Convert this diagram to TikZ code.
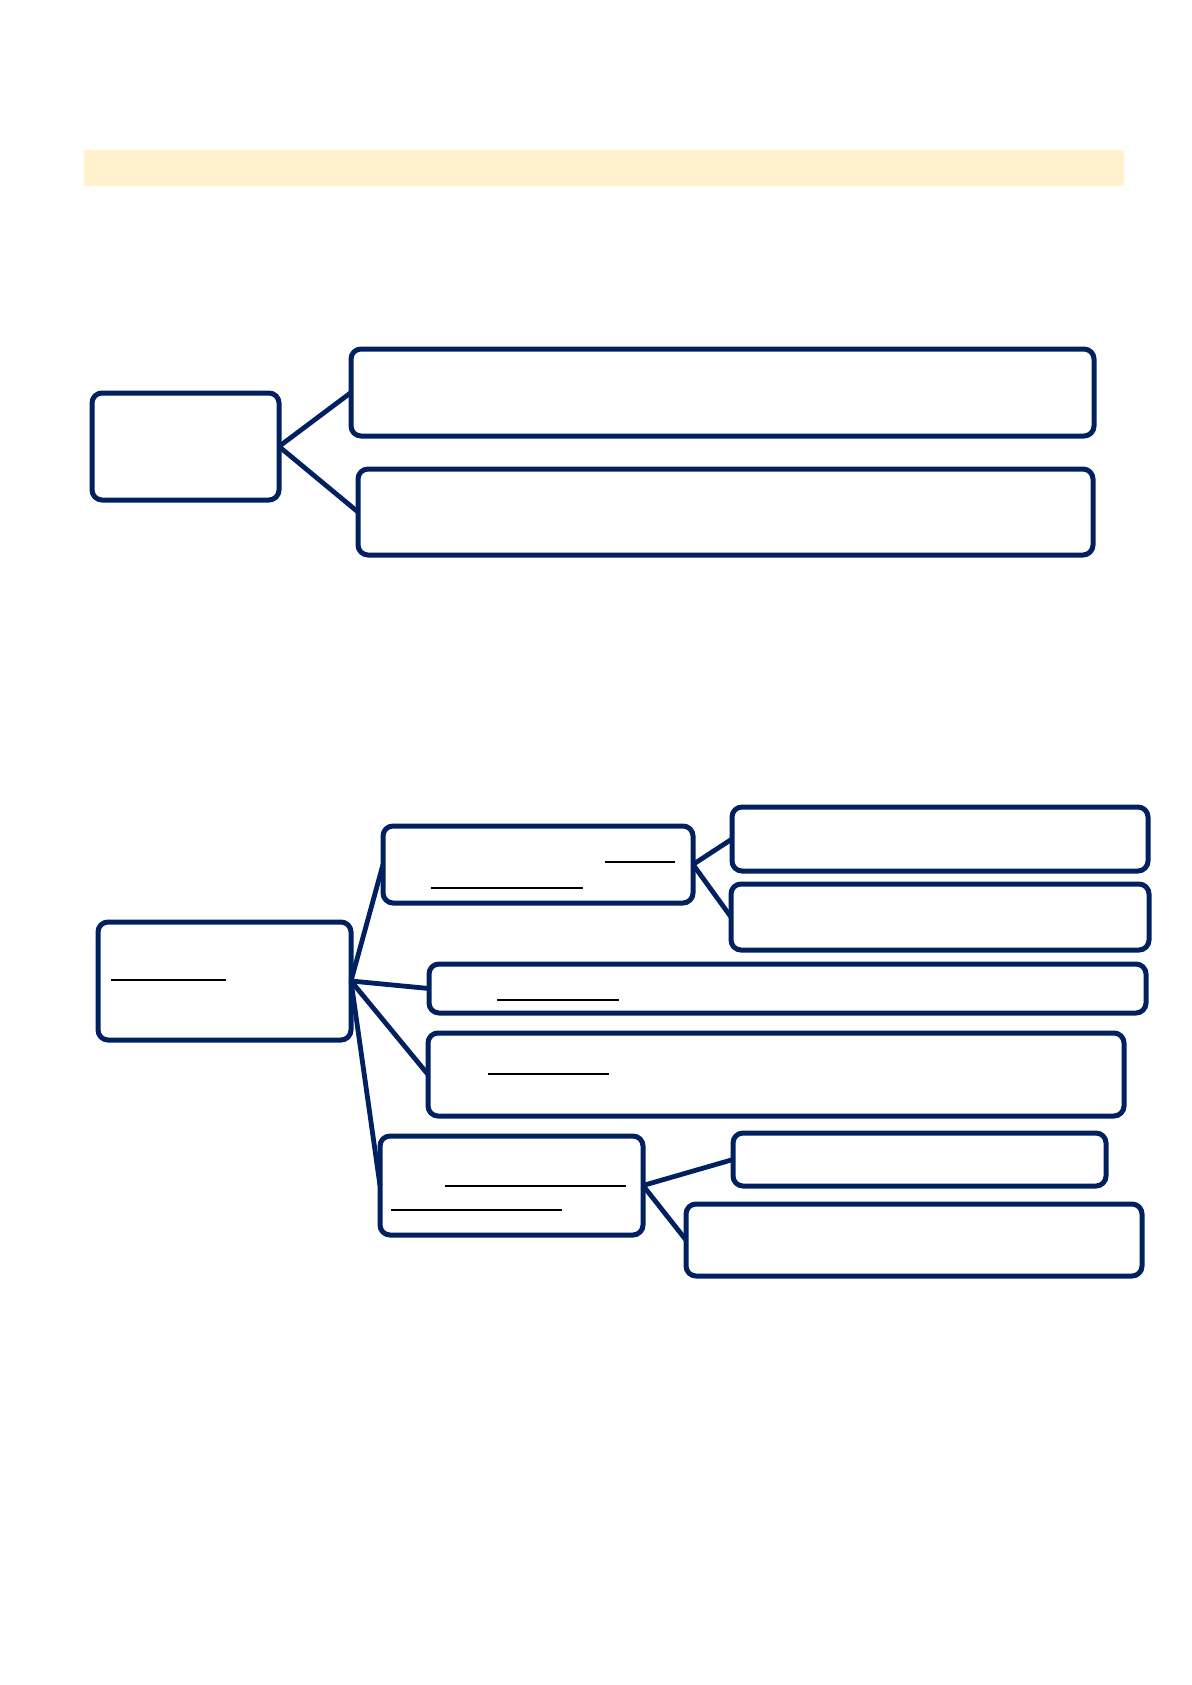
\documentclass[tikz,border=0pt]{standalone}
\definecolor{navyline}{RGB}{0, 32, 96}
\definecolor{paleyellow}{RGB}{255, 242, 204}
\usepackage{tikz}
\usetikzlibrary{positioning, calc}

\begin{document}
\begin{tikzpicture}[
  x=0.5pt, y=-0.5pt,
  mbox/.style={draw=navyline, line width=2.5pt, rounded corners=5pt, fill=white, inner sep=0pt, outer sep=0pt},
  link/.style={draw=navyline, line width=2.4pt},
  uline/.style={draw=black, line width=1.3pt}
]
  \useasboundingbox (0,0) rectangle (1192,1685);
  % banner
  \fill[paleyellow] (84,150) rectangle (1124,186);

  % first group
  \node[mbox, minimum width=93.5pt, minimum height=53.5pt] (defn) at (185.5, 446.5) {};
  \node[mbox, minimum width=371.5pt, minimum height=43.5pt] (defnA) at (722.5, 392.5) {};
  \node[mbox, minimum width=367.5pt, minimum height=43pt] (defnB) at (725.5, 512) {};
  \draw[link] (defn.east) -- (defnA.west);
  \draw[link] (defn.east) -- (defnB.west);

  % second group
  \node[mbox, minimum width=126.5pt, minimum height=59pt] (root) at (224.5, 981) {};
  \node[mbox, minimum width=155pt, minimum height=38.5pt] (topic) at (538, 864.5) {};
  \node[mbox, minimum width=208pt, minimum height=32pt] (topicA) at (940, 839) {};
  \node[mbox, minimum width=209pt, minimum height=33pt] (topicB) at (940, 917) {};
  \node[mbox, minimum width=358.5pt, minimum height=24.5pt] (second) at (787.5, 988.5) {};
  \node[mbox, minimum width=348pt, minimum height=41.5pt] (third) at (776, 1074.5) {};
  \node[mbox, minimum width=131.5pt, minimum height=49.5pt] (fourth) at (511.5, 1185.5) {};
  \node[mbox, minimum width=186.5pt, minimum height=26.5pt] (fourthA) at (919.5, 1159.5) {};
  \node[mbox, minimum width=228pt, minimum height=36pt] (fourthB) at (914, 1240) {};

  \draw[link] (root.east) -- (topic.west);
  \draw[link] (root.east) -- (second.west);
  \draw[link] (root.east) -- (third.west);
  \draw[link] (root.east) -- (fourth.west);
  \draw[link] (topic.east) -- (topicA.west);
  \draw[link] (topic.east) -- (topicB.west);
  \draw[link] (fourth.east) -- (fourthA.west);
  \draw[link] (fourth.east) -- (fourthB.west);

  % underlines
  \draw[uline] (111,980) -- (226,980);
  \draw[uline] (605,862) -- (675,862);
  \draw[uline] (431,888) -- (583,888);
  \draw[uline] (497,1000) -- (619,1000);
  \draw[uline] (488,1074) -- (609,1074);
  \draw[uline] (445,1186) -- (626,1186);
  \draw[uline] (391,1210) -- (562,1210);
\end{tikzpicture}
\end{document}
